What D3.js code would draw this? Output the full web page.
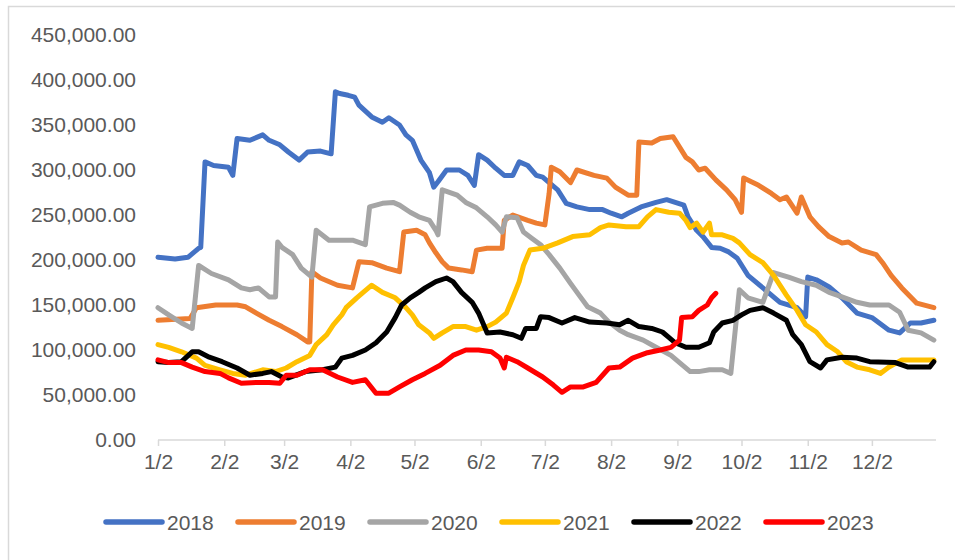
<!DOCTYPE html>
<html>
<head>
<meta charset="utf-8">
<script src="https://cdnjs.cloudflare.com/ajax/libs/d3/7.8.5/d3.min.js"></script>
<style>
  html, body { margin: 0; padding: 0; background: #fff; }
  svg text { font-family: "Liberation Sans", Arial, sans-serif; fill: #595959; }
</style>
</head>
<body>
<svg id="canvas"></svg>
<script>
// Series, [month/day, value]
var data2018 = [
  ['1/2', 203000], ['1/10', 201000], ['1/16', 203000], ['1/21', 213000], ['1/22', 214000],
  ['1/24', 309000], ['1/28', 305000], ['2/4', 303000], ['2/6', 294000], ['2/8', 335000],
  ['2/14', 333000], ['2/20', 339000], ['2/23', 333000], ['2/28', 328000], ['3/4', 320000],
  ['3/9', 311000], ['3/13', 320000], ['3/19', 321000], ['3/24', 318000], ['3/26', 387000],
  ['3/28', 385000], ['4/1', 383000], ['4/4', 381000], ['4/6', 372000], ['4/12', 359000],
  ['4/17', 353000], ['4/20', 358000], ['4/25', 350000], ['4/28', 339000], ['5/1', 333000],
  ['5/5', 311000], ['5/9', 297000], ['5/11', 281000], ['5/13', 287000], ['5/17', 300000],
  ['5/23', 300000], ['5/27', 294000], ['5/30', 283000], ['6/1', 317000], ['6/5', 311000],
  ['6/9', 302000], ['6/13', 294000], ['6/17', 294000], ['6/20', 309000], ['6/24', 305000],
  ['6/28', 294000], ['7/1', 292000], ['7/8', 278000], ['7/12', 263000], ['7/17', 259000],
  ['7/23', 256000], ['7/29', 256000], ['8/2', 252000], ['8/7', 248000], ['8/10', 252000],
  ['8/16', 259000], ['8/23', 264000], ['8/28', 267000], ['9/1', 264000], ['9/5', 261000],
  ['9/7', 248000], ['9/11', 233000], ['9/14', 226000], ['9/18', 214000], ['9/22', 213000],
  ['9/26', 209000], ['9/30', 202000], ['10/5', 183000], ['10/12', 169000], ['10/20', 153000],
  ['10/28', 147000], ['11/1', 137000], ['11/2', 181000], ['11/6', 178000], ['11/12', 170000],
  ['11/18', 158000], ['11/25', 141000], ['12/2', 136000], ['12/10', 122000], ['12/15', 119000],
  ['12/20', 130000], ['12/25', 130000], ['12/31', 133000]
];

var data2019 = [
  ['1/2', 133000], ['1/17', 135000], ['1/20', 147000], ['1/29', 150000], ['2/8', 150000],
  ['2/12', 148000], ['2/17', 141000], ['2/23', 133000], ['3/1', 126000], ['3/8', 117000],
  ['3/13', 109000], ['3/14', 109000], ['3/15', 187000], ['3/19', 180000], ['3/27', 172000],
  ['4/3', 169000], ['4/6', 198000], ['4/12', 197000], ['4/19', 191000], ['4/25', 187000],
  ['4/27', 231000], ['5/3', 233000], ['5/7', 228000], ['5/9', 219000], ['5/12', 208000],
  ['5/15', 198000], ['5/18', 191000], ['5/24', 189000], ['5/29', 187000], ['5/31', 211000],
  ['6/5', 213000], ['6/12', 213000], ['6/13', 244000], ['6/17', 250000], ['6/24', 244000],
  ['6/28', 241000], ['7/2', 239000], ['7/4', 274000], ['7/5', 303000], ['7/9', 298000],
  ['7/14', 286000], ['7/17', 300000], ['7/25', 294000], ['7/31', 291000], ['8/4', 281000],
  ['8/10', 272000], ['8/14', 272000], ['8/15', 331000], ['8/21', 330000], ['8/25', 335000],
  ['8/31', 337000], ['9/6', 314000], ['9/9', 309000], ['9/12', 300000], ['9/15', 302000],
  ['9/20', 289000], ['9/25', 278000], ['9/29', 267000], ['10/2', 253000], ['10/3', 291000],
  ['10/10', 283000], ['10/16', 274000], ['10/20', 267000], ['10/23', 270000], ['10/28', 252000],
  ['10/30', 270000], ['11/3', 248000], ['11/7', 237000], ['11/12', 226000], ['11/18', 219000],
  ['11/21', 220000], ['11/27', 211000], ['12/4', 206000], ['12/7', 197000], ['12/11', 183000],
  ['12/16', 169000], ['12/23', 152000], ['12/31', 147000]
];

var data2020 = [
  ['1/2', 147000], ['1/7', 139000], ['1/13', 130000], ['1/18', 124000], ['1/21', 194000],
  ['1/27', 185000], ['2/4', 178000], ['2/10', 169000], ['2/14', 167000], ['2/18', 169000],
  ['2/23', 159000], ['2/26', 159000], ['2/27', 220000], ['3/1', 214000], ['3/6', 206000],
  ['3/10', 191000], ['3/15', 181000], ['3/17', 233000], ['3/23', 222000], ['4/3', 222000],
  ['4/9', 217000], ['4/11', 259000], ['4/17', 263000], ['4/22', 264000], ['4/25', 261000],
  ['4/30', 253000], ['5/4', 248000], ['5/9', 244000], ['5/12', 233000], ['5/13', 228000],
  ['5/15', 278000], ['5/22', 272000], ['5/26', 264000], ['5/31', 258000], ['6/5', 248000],
  ['6/9', 239000], ['6/12', 231000], ['6/14', 248000], ['6/19', 247000], ['6/22', 231000],
  ['6/26', 224000], ['6/30', 217000], ['7/4', 206000], ['7/9', 191000], ['7/14', 174000],
  ['7/18', 161000], ['7/22', 148000], ['7/28', 141000], ['8/1', 131000], ['8/6', 122000],
  ['8/10', 117000], ['8/17', 111000], ['8/23', 103000], ['8/30', 94000], ['9/3', 86000],
  ['9/8', 76000], ['9/12', 76000], ['9/17', 78000], ['9/23', 78000], ['9/27', 74000],
  ['10/1', 167000], ['10/5', 158000], ['10/12', 153000], ['10/17', 186000], ['10/24', 181000],
  ['10/30', 176000], ['11/6', 172000], ['11/12', 164000], ['11/18', 159000], ['11/25', 153000],
  ['12/1', 150000], ['12/10', 150000], ['12/15', 142000], ['12/19', 122000], ['12/25', 119000],
  ['12/31', 111000]
];

var data2021 = [
  ['1/2', 106000], ['1/7', 103000], ['1/13', 98000], ['1/20', 91000], ['1/24', 83000],
  ['1/31', 78000], ['2/6', 74000], ['2/12', 72000], ['2/20', 78000], ['2/26', 76000],
  ['3/3', 80000], ['3/8', 87000], ['3/14', 94000], ['3/17', 106000], ['3/22', 117000],
  ['3/25', 128000], ['3/29', 139000], ['3/31', 147000], ['4/5', 158000], ['4/8', 164000],
  ['4/12', 172000], ['4/17', 164000], ['4/23', 158000], ['4/28', 147000], ['5/1', 139000],
  ['5/4', 128000], ['5/9', 119000], ['5/11', 113000], ['5/15', 119000], ['5/20', 126000],
  ['5/26', 126000], ['5/31', 122000], ['6/5', 126000], ['6/9', 131000], ['6/14', 141000],
  ['6/17', 158000], ['6/20', 176000], ['6/22', 194000], ['6/25', 211000], ['7/1', 213000],
  ['7/8', 219000], ['7/15', 226000], ['7/23', 228000], ['7/28', 236000], ['8/1', 239000],
  ['8/9', 237000], ['8/15', 237000], ['8/19', 248000], ['8/23', 256000], ['8/29', 253000],
  ['9/3', 252000], ['9/6', 244000], ['9/8', 236000], ['9/11', 241000], ['9/14', 231000],
  ['9/17', 241000], ['9/18', 228000], ['9/23', 228000], ['9/28', 224000], ['10/1', 219000],
  ['10/6', 206000], ['10/12', 197000], ['10/17', 183000], ['10/23', 161000], ['10/28', 144000],
  ['11/1', 128000], ['11/6', 120000], ['11/11', 106000], ['11/16', 98000], ['11/20', 87000],
  ['11/25', 81000], ['12/1', 78000], ['12/6', 74000], ['12/10', 81000], ['12/16', 89000],
  ['12/31', 89000]
];

var data2022 = [
  ['1/2', 87000], ['1/7', 86000], ['1/13', 87000], ['1/18', 98000], ['1/21', 98000],
  ['1/26', 92000], ['2/1', 87000], ['2/8', 80000], ['2/14', 72000], ['2/20', 74000],
  ['2/24', 76000], ['3/1', 70000], ['3/4', 69000], ['3/12', 76000], ['3/20', 78000],
  ['3/26', 81000], ['3/29', 91000], ['4/3', 94000], ['4/9', 100000], ['4/14', 108000],
  ['4/19', 120000], ['4/23', 136000], ['4/26', 150000], ['4/30', 158000], ['5/4', 164000],
  ['5/7', 169000], ['5/12', 176000], ['5/17', 180000], ['5/20', 176000], ['5/24', 164000],
  ['5/29', 153000], ['6/1', 141000], ['6/5', 119000], ['6/11', 120000], ['6/17', 117000],
  ['6/21', 113000], ['6/23', 124000], ['6/28', 124000], ['6/30', 137000], ['7/4', 136000],
  ['7/10', 130000], ['7/16', 136000], ['7/23', 131000], ['7/31', 130000], ['8/6', 128000],
  ['8/10', 133000], ['8/15', 126000], ['8/21', 124000], ['8/26', 120000], ['8/29', 114000],
  ['9/1', 108000], ['9/6', 103000], ['9/12', 103000], ['9/17', 108000], ['9/19', 120000],
  ['9/23', 130000], ['9/28', 133000], ['10/2', 139000], ['10/6', 144000], ['10/12', 147000],
  ['10/17', 141000], ['10/23', 133000], ['10/26', 117000], ['10/30', 106000], ['11/3', 87000],
  ['11/8', 80000], ['11/11', 89000], ['11/18', 92000], ['11/25', 91000], ['12/1', 87000],
  ['12/13', 86000], ['12/19', 81000], ['12/29', 81000], ['12/31', 87000]
];

var data2023 = [
  ['1/2', 89000], ['1/7', 86000], ['1/13', 86000], ['1/18', 81000], ['1/24', 76000],
  ['1/31', 74000], ['2/4', 69000], ['2/10', 63000], ['2/17', 64000], ['2/23', 64000],
  ['2/28', 63000], ['3/3', 72000], ['3/8', 72000], ['3/14', 78000], ['3/20', 78000],
  ['3/27', 70000], ['4/3', 64000], ['4/9', 67000], ['4/14', 52000], ['4/20', 52000],
  ['4/25', 59000], ['5/1', 67000], ['5/7', 74000], ['5/14', 83000], ['5/20', 94000],
  ['5/26', 100000], ['6/1', 100000], ['6/7', 98000], ['6/11', 91000], ['6/13', 80000],
  ['6/14', 92000], ['6/19', 87000], ['6/24', 80000], ['7/1', 70000], ['7/6', 61000],
  ['7/10', 53000], ['7/14', 59000], ['7/20', 59000], ['7/26', 64000], ['8/1', 80000],
  ['8/6', 81000], ['8/12', 91000], ['8/19', 97000], ['8/25', 100000], ['8/30', 103000],
  ['9/3', 111000], ['9/4', 136000], ['9/9', 137000], ['9/12', 144000], ['9/16', 150000],
  ['9/18', 158000], ['9/20', 163000]
];

var years = ['2018', '2019', '2020', '2021', '2022', '2023'];
var colors = ['#4472C4', '#ED7D31', '#A5A5A5', '#FFC000', '#000000', '#FF0000'];
var seriesData = [data2018, data2019, data2020, data2021, data2022, data2023];
var tickLabels = ['1/2', '2/2', '3/2', '4/2', '5/2', '6/2', '7/2', '8/2', '9/2', '10/2', '11/2', '12/2'];
var yTicks = [0, 50000, 100000, 150000, 200000, 250000, 300000, 350000, 400000, 450000];

var canvasWidth = 955;
var canvasHeight = 560;

// Plot box in pixels
var plot = {
  left: 158,
  right: 936,
  top: 35,
  bottom: 440
};

var svg = d3.select('#canvas')
  .attr('width', canvasWidth)
  .attr('height', canvasHeight);

// all dates are put on one reference year
var parseDay = function(s) {
  var p = s.split('/');
  return new Date(2018, +p[0] - 1, +p[1]);
};

var x = d3.scaleTime()
  .domain([new Date(2018, 0, 2), new Date(2019, 0, 1)])
  .range([plot.left, plot.right]);

var y = d3.scaleLinear()
  .domain([0, 450000])
  .range([plot.bottom, plot.top]);

// Outer frame
svg.append('rect')
  .attr('x', 8.5)
  .attr('y', 6.5)
  .attr('width', canvasWidth)
  .attr('height', canvasHeight)
  .attr('fill', 'none')
  .attr('stroke', '#d9d9d9')
  .attr('stroke-width', 1.5);

// Y axis (labels only)
var yAxis = svg.append('g')
  .attr('transform', 'translate(136,0)')
  .call(d3.axisLeft(y)
    .tickValues(yTicks)
    .tickSize(0)
    .tickPadding(0)
    .tickFormat(d3.format(',.2f')));
yAxis.select('.domain').remove();
yAxis.selectAll('text')
  .style('font-size', '21px')
  .attr('fill', '#595959');

// X axis
var xAxis = svg.append('g')
  .attr('transform', 'translate(0,' + plot.bottom + ')')
  .call(d3.axisBottom(x)
    .tickValues(tickLabels.map(parseDay))
    .tickSize(6)
    .tickPadding(8)
    .tickFormat(d3.timeFormat('%-m/%-d')));
xAxis.select('.domain')
  .attr('stroke', '#d9d9d9')
  .attr('stroke-width', 1.5)
  .attr('d', 'M' + plot.left + ',0H' + plot.right);
xAxis.selectAll('.tick line')
  .attr('stroke', '#d9d9d9')
  .attr('stroke-width', 1.5);
xAxis.selectAll('text')
  .style('font-size', '21px')
  .attr('fill', '#595959');

// Lines
var line = d3.line()
  .x(function(d) { return x(parseDay(d[0])); })
  .y(function(d) { return y(d[1]); });

svg.append('g')
  .selectAll('path')
  .data(seriesData)
  .enter()
  .append('path')
  .attr('d', line)
  .attr('fill', 'none')
  .attr('stroke', function(d, i) { return colors[i]; })
  .attr('stroke-width', 5)
  .attr('stroke-linejoin', 'round')
  .attr('stroke-linecap', 'round');

// Legend
var legend = svg.append('g')
  .attr('transform', 'translate(106,522)')
  .selectAll('g')
  .data(years)
  .enter()
  .append('g')
  .attr('transform', function(d, i) { return 'translate(' + (i * 132) + ',0)'; });

legend.append('line')
  .attr('x1', 0)
  .attr('x2', 56)
  .attr('stroke', function(d, i) { return colors[i]; })
  .attr('stroke-width', 5.5)
  .attr('stroke-linecap', 'round');

legend.append('text')
  .attr('x', 61)
  .attr('y', 8)
  .style('font-size', '21px')
  .text(function(d) { return d; });
</script>
</body>
</html>
